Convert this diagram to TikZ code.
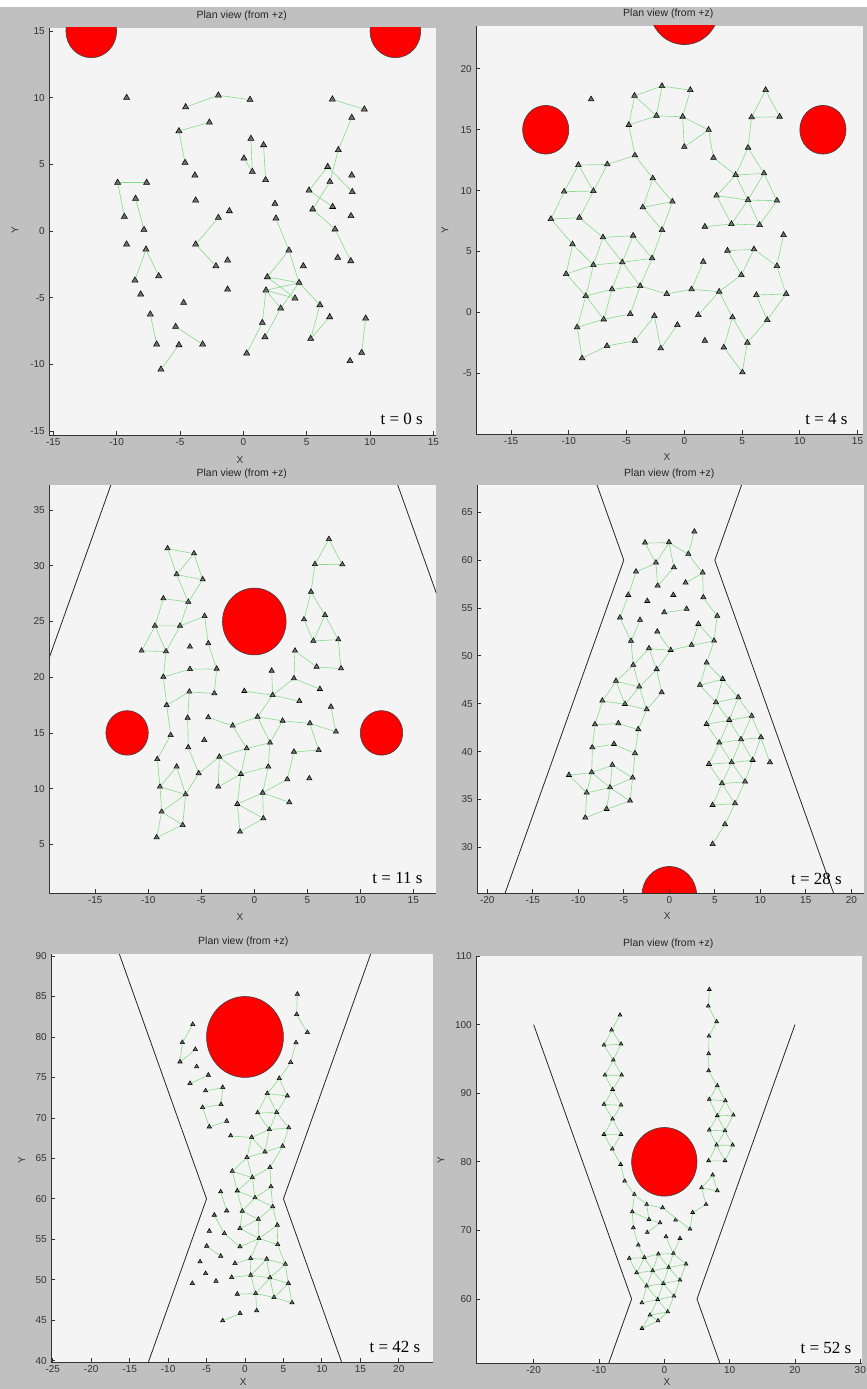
\documentclass[tikz,border=0pt]{standalone}
\usepackage{fontspec}
\setmainfont{Liberation Serif}
\setsansfont{Liberation Sans}
\usepackage{tikz}
\usetikzlibrary{shapes.geometric}
\definecolor{figGray}{HTML}{C0C0C0}
\definecolor{plotBg}{HTML}{F4F4F4}
\definecolor{linkGreen}{HTML}{86DC86}
\definecolor{agentGray}{HTML}{6E6E6E}
\tikzset{
  plotarea/.style={fill=plotBg},
  axisline/.style={draw=black!80,line width=0.8pt},
  ticklabel/.style={font=\fontsize{10}{12}\sffamily,text=black!80,inner sep=1pt},
  plottitle/.style={font=\fontsize{10.5}{12}\sffamily,text=black!85},
  axislabel/.style={font=\fontsize{10}{12}\sffamily,text=black!80},
  timelabel/.style={font=\fontsize{17}{20}\rmfamily,text=black},
  wall/.style={draw=black!85,line width=0.8pt},
  obstacle/.style={fill=red,draw=black!75,line width=0.6pt},
  link/.style={draw=linkGreen,line width=0.6pt},
  agent/.style={regular polygon,regular polygon sides=3,minimum size=#1,inner sep=0pt,
    draw=black,fill=agentGray,line width=0.55pt},
  agent/.default=7pt
}

\begin{document}
\begin{tikzpicture}[x=1pt,y=-1pt]
  \useasboundingbox (0,0) rectangle (867,1389);
  \fill[figGray] (0,0) rectangle (867,1389);
  \fill[white] (0,0) rectangle (867,7);

  % ---- t = 0 s
  \begin{scope}
    \clip (49,28) rectangle (436,435);
    \fill[plotarea] (49,28) rectangle (436,435);
    \begin{scope}[shift={(243.3,231)},xscale=12.67,yscale=-13.33]
      \filldraw[obstacle] (-12,15) circle (2) (12,15) circle (2);
      \foreach \n/\x/\y in {1/-9.21/10.0,2/-4.55/9.3,3/-1.97/10.18,4/0.53/9.85,5/7.03/9.88,
        6/9.55/9.13,7/8.56/8.5,8/7.5/6.08,9/-5.08/7.5,10/-2.68/8.15,11/-4.6/5.13,12/0.6/6.93,
        13/0.71/4.45,14/1.6/6.45,15/1.76/3.83,16/0.05/5.45,17/-3.82/4.18,18/-3.76/2.3,
        19/-1.97/1.0,20/-1.1/1.5,21/-3.76/-1.0,22/-2.16/-2.63,23/-1.24/-2.2,24/-1.24/-4.38,
        25/-9.92/3.63,26/-7.63/3.63,27/-9.39/1.08,28/-8.5/2.43,29/-7.84/0.1,30/-9.21/-1.0,
        31/-7.68/-1.38,32/-8.55/-3.7,33/-6.68/-3.38,34/-8.1/-4.75,35/-7.34/-6.25,36/-6.84/-8.5,
        37/-5.34/-7.18,38/-3.21/-8.5,39/-5.08/-8.55,40/-6.5/-10.38,41/-4.71/-5.38,42/6.66/4.82,
        43/8.56/4.18,44/6.84/3.7,45/5.19/3.05,46/8.6/2.93,47/7.05/1.82,48/5.48/1.63,49/8.5/1.13,
        50/7.24/0.13,51/7.45/-2.0,52/8.48/-2.25,53/2.5/2.05,54/2.58/0.95,55/3.6/-1.45,
        56/4.74/-2.63,57/1.9/-3.45,58/4.4/-3.88,59/1.79/-4.45,60/4.08/-5.05,61/2.95/-5.8,
        62/6.05/-5.55,63/6.82/-6.45,64/1.5/-6.88,65/1.71/-7.95,66/5.32/-8.08,67/0.27/-9.18,
        68/9.66/-6.55,69/9.34/-9.13,70/8.42/-9.75}
        \node[agent] (a\n) at (\x,\y) {};
      \foreach \i/\j in {2/3,3/4,5/6,7/8,8/44,42/45,42/46,44/48,45/47,48/50,50/52,9/10,9/11,
        12/13,14/15,16/13,25/26,25/27,28/29,31/32,31/33,35/36,37/38,39/40,21/19,21/22,54/55,
        55/57,55/58,57/58,57/60,59/58,59/60,59/61,58/61,58/62,62/66,63/66,59/64,64/67,61/65,68/69}
        \draw[link] (a\i) -- (a\j);
    \end{scope}
    \node[timelabel] (t0) at (401.7,418.5) {t = 0 s};
  \end{scope}
  \draw[axisline] (49,28) -- (49,435) -- (436,435);
  \foreach \v in {-15,-10,...,15} {
    \draw[axisline] ({243.3+12.67*\v},435) -- ++(0,-4);
    \node[ticklabel,anchor=north] at ({243.3+12.67*\v},437) {\v};
    \draw[axisline] (49,{231-13.33*\v}) -- ++(4,0);
    \node[ticklabel,anchor=east] at (46,{231-13.33*\v}) {\v};
  }
  \node[plottitle] (title1) at (241.7,16) {Plan view (from +z)};
  \node[axislabel] (xlab1) at (240,460) {X};
  \node[axislabel,rotate=90] (ylab1) at (15,230) {Y};

  % ---- t = 4 s
  \begin{scope}
    \clip (476,26) rectangle (863,434);
    \fill[plotarea] (476,26) rectangle (863,434);
    \begin{scope}[shift={(684.3,312.3)},xscale=11.55,yscale=-12.17]
      \filldraw[obstacle] (-12,15) circle (2) (12,15) circle (2) (0,25) circle (3);
      \foreach \n/\x/\y in {1/-8.07/17.5,2/-4.31/17.8,3/-1.93/18.6,4/0.52/18.27,5/-2.41/16.16,
        6/-0.14/16.08,7/-4.8/15.4,8/2.1/15.0,9/0.0/13.6,10/2.53/12.7,11/-4.28/12.9,12/7.04/18.27,
        13/5.83/16.03,14/8.25/16.08,15/5.52/13.53,16/4.45/11.29,17/6.9/11.42,18/2.79/9.59,
        19/5.52/9.23,20/8.02/9.18,21/4.08/7.26,22/6.52/7.18,23/1.78/7.04,24/8.59/6.36,
        25/3.74/5.07,26/6.03/5.18,27/8.02/3.81,28/4.94/3.07,29/6.24/1.42,30/8.82/1.51,
        31/3.02/1.7,32/4.17/-0.41,33/7.18/-0.63,34/5.46/-2.49,35/3.42/-2.88,36/5.03/-4.93,
        37/0.63/1.89,38/1.64/4.16,39/1.21/-0.22,40/1.78/-2.33,41/-2.73/11.01,42/-1.03/9.1,
        43/-3.59/8.63,44/-1.93/6.77,45/-4.43/6.3,46/-7.04/6.16,47/-2.79/4.44,48/-5.37/4.11,
        49/-7.87/3.89,50/-3.82/2.16,51/-6.26/1.89,52/-8.53/1.34,53/-4.68/-0.14,54/-6.98/-0.58,
        55/-9.28/-1.23,56/-6.7/-2.77,57/-4.28/-2.33,58/-2.04/-2.96,59/-2.59/-0.3,60/-0.6/-1.04,
        61/-8.85/-3.78,62/-1.52/1.51,63/-9.17/12.11,64/-6.67/12.16,65/-10.4/9.92,66/-7.87/9.97,
        67/-11.55/7.67,68/-9.08/7.78,69/-9.68/5.59,70/-10.23/3.15}
        \node[agent=6.5pt] (b\n) at (\x,\y) {};
      \foreach \i/\j in {2/3,3/4,2/5,3/5,4/6,5/6,7/5,2/7,6/8,6/9,8/9,8/10,7/11,12/13,12/14,
        13/14,13/15,15/16,15/17,16/17,10/16,16/18,16/19,17/19,17/20,18/19,19/20,18/21,19/21,
        19/22,20/22,21/22,23/21,25/26,26/27,24/27,27/30,25/28,26/28,28/31,29/30,29/33,30/33,
        31/32,32/34,33/34,32/35,35/36,34/36,37/38,37/31,39/31,11/41,41/43,41/42,42/43,43/44,
        42/44,46/45,45/47,45/48,44/47,46/48,46/49,47/48,48/49,48/50,47/50,49/52,51/52,51/50,
        50/53,48/51,51/54,52/54,52/55,54/55,53/54,55/61,56/61,56/57,59/57,59/58,58/60,50/62,
        62/37,63/64,63/65,63/66,64/66,65/66,65/67,66/68,67/68,67/69,68/46,69/70,69/49,70/49,
        70/52,64/11}
        \draw[link] (b\i) -- (b\j);
    \end{scope}
    \node[timelabel] (t4) at (826.5,418.5) {t = 4 s};
  \end{scope}
  \draw[axisline] (476,26) -- (476,434) -- (863,434);
  \foreach \v in {-15,-10,...,15} {
    \draw[axisline] ({684.3+11.55*\v},434) -- ++(0,-4);
    \node[ticklabel,anchor=north] at ({684.3+11.55*\v},436) {\v};
  }
  \foreach \v in {-5,0,...,20} {
    \draw[axisline] (476,{312.3-12.17*\v}) -- ++(4,0);
    \node[ticklabel,anchor=east] at (473,{312.3-12.17*\v}) {\v};
  }
  \node[plottitle] (title2) at (668.3,14) {Plan view (from +z)};
  \node[axislabel] (xlab2) at (667,457) {X};
  \node[axislabel,rotate=90] (ylab2) at (445,230) {Y};

  % ---- t = 11 s
  \begin{scope}
    \clip (49,485) rectangle (436,893);
    \fill[plotarea] (49,485) rectangle (436,893);
    \begin{scope}[shift={(254.3,900)},xscale=10.6,yscale=-11.14]
      \draw[wall] (-20,20) -- (-5,60) -- (-20,100) (20,20) -- (5,60) -- (20,100);
      \filldraw[obstacle] (-12,15) circle (2) (12,15) circle (2) (0,25) circle (3);
      \foreach \n/\x/\y in {1/-8.18/31.56,2/-5.69/31.11,3/-7.33/29.23,4/-4.87/28.78,
        5/-8.58/27.07,6/-6.23/26.77,7/-9.37/24.62,8/-7.01/24.62,9/-4.69/25.49,10/-10.63/22.38,
        11/-8.33/22.32,12/-6.07/22.74,13/-4.34/23.03,14/-8.58/20.04,15/-6.07/20.73,
        16/-3.55/20.76,17/-8.27/17.5,18/-6.13/18.7,19/-3.77/18.55,20/-6.29/16.36,21/-4.34/16.39,
        22/-7.89/14.81,23/-6.23/13.7,24/-4.72/14.36,25/-9.15/12.65,26/-7.33/11.97,27/-8.9/10.17,
        28/-6.48/9.48,29/-8.74/7.93,30/-6.76/6.73,31/-9.21/5.62,32/-5.25/11.37,33/-0.94/18.76,
        34/1.73/18.4,35/1.64/20.58,36/-2.04/15.65,37/-3.3/12.86,38/0.31/16.45,39/2.67/16.09,
        40/4.25/17.86,41/-0.72/13.61,42/1.48/14.12,43/-1.26/11.31,44/1.32/11.97,45/-3.4/10.17,
        46/0.79/9.63,47/-1.6/8.62,48/3.3/8.77,49/0.85/7.33,50/-1.35/6.13,51/3.11/10.83,
        52/3.74/13.31,53/6.07/13.46,54/5.19/10.92,55/5.25/15.86,56/7.23/17.35,57/7.7/15.11,
        59/3.84/22.38,60/3.74/19.9,61/5.88/20.94,62/8.18/20.79,63/6.19/18.94,64/5.57/23.27,
        65/7.92/23.39,66/4.69/25.19,67/6.67/25.58,68/5.35/27.67,69/5.72/30.15,70/8.3/30.12,
        71/7.04/32.4}
        \node[agent=6pt] (c\n) at (\x,\y) {};
      \foreach \i/\j in {1/2,1/3,2/3,2/4,3/4,3/6,4/6,5/6,5/7,6/8,7/8,8/11,7/10,7/11,10/11,
        8/9,9/13,13/16,11/14,14/15,15/16,14/17,16/19,18/19,17/18,18/20,17/22,20/23,21/36,22/25,
        25/27,26/27,26/28,27/28,27/29,28/29,28/30,29/30,29/31,30/31,28/32,23/32,32/37,69/70,
        69/71,70/71,69/68,68/66,68/67,66/64,67/64,67/65,64/65,65/62,61/62,59/61,59/60,60/63,
        60/34,34/35,34/33,34/40,34/38,38/39,36/38,38/42,39/42,39/55,55/57,56/57,55/53,53/52,
        52/51,42/41,41/36,41/43,42/44,37/41,37/45,37/43,43/45,43/44,43/47,44/46,46/47,46/48,
        46/49,47/49,47/50,49/50,51/46}
        \draw[link] (c\i) -- (c\j);
    \end{scope}
    \node[timelabel] (t11) at (397.5,877.5) {t = 11 s};
  \end{scope}
  \draw[axisline] (49,485) -- (49,893) -- (436,893);
  \foreach \v in {-15,-10,...,15} {
    \draw[axisline] ({254.3+10.6*\v},893) -- ++(0,-4);
    \node[ticklabel,anchor=north] at ({254.3+10.6*\v},895) {\v};
  }
  \foreach \v in {5,10,...,35} {
    \draw[axisline] (49,{900-11.14*\v}) -- ++(4,0);
    \node[ticklabel,anchor=east] at (46,{900-11.14*\v}) {\v};
  }
  \node[plottitle] (title3) at (241.7,473.3) {Plan view (from +z)};
  \node[axislabel] (xlab3) at (240,917) {X};

  % ---- t = 28 s
  \begin{scope}
    \clip (477,485) rectangle (864,893);
    \fill[plotarea] (477,485) rectangle (864,893);
    \begin{scope}[shift={(669.3,1134.4)},xscale=9.1,yscale=-9.571]
      \draw[wall] (-20,20) -- (-5,60) -- (-20,100) (20,20) -- (5,60) -- (20,100);
      \filldraw[obstacle] (0,25) circle (3);
      \foreach \n/\x/\y in {1/2.75/62.98,2/-2.67/61.83,3/-0.04/61.87,4/2.09/60.65,
        5/-1.47/59.74,6/0.51/59.25,7/-3.66/58.8,8/3.66/58.7,9/-1.28/57.34,10/1.79/57.65,
        11/-4.51/56.36,12/-2.42/55.73,13/0.44/56.36,14/3.74/56.12,15/-0.55/54.55,16/1.9/54.9,
        17/-5.42/54.0,18/-3.22/53.75,19/5.27/54.17,20/3.19/53.33,21/-1.32/52.53,22/-4.21/51.56,
        23/4.91/51.59,24/2.45/51.14,25/-2.23/50.79,26/0.15/50.61,27/4.1/49.29,28/-3.96/49.05,
        29/-1.39/48.6,30/-5.86/47.38,31/3.37/46.96,32/-3.3/46.78,33/-0.84/46.19,34/-7.36/45.32,
        35/-4.87/44.97,36/-2.49/44.41,37/-8.17/42.85,38/-5.6/42.95,39/-3.41/42.33,
        40/-8.46/40.44,41/-6.08/40.79,42/-3.77/39.82,43/-11.03/37.55,44/-8.53/37.83,
        45/-6.26/38.6,46/-4.03/37.27,47/-9.08/35.71,48/-6.52/36.26,49/-4.32/34.87,50/-6.89/34.0,
        51/-9.23/33.1,53/5.86/47.58,54/5.13/45.15,55/7.58/45.67,56/4.1/42.88,57/6.59/43.3,
        58/9.05/43.72,59/5.49/40.93,60/7.88/41.28,61/10.07/41.49,62/4.36/38.7,63/6.85/38.88,
        64/9.16/39.12,65/11.06/38.88,66/5.79/36.68,67/8.32/36.86,68/4.76/34.42,69/7.22/34.59,
        70/6.12/32.4,71/4.76/30.34}
        \node[agent=6pt] (d\n) at (\x,\y) {};
      \foreach \i/\j in {2/3,2/5,3/5,3/6,3/4,4/1,4/8,5/7,5/9,6/9,7/11,11/17,17/22,22/28,18/22,
        15/16,21/26,25/26,26/24,24/23,24/20,20/23,23/19,19/14,14/8,10/8,23/27,27/31,25/28,25/29,
        26/29,28/30,28/32,30/32,29/32,29/33,33/36,30/34,30/35,32/35,32/36,34/35,35/36,34/37,
        36/39,37/38,38/39,37/40,39/42,40/41,41/42,40/44,42/46,43/44,44/45,45/46,43/47,44/47,
        44/48,45/48,46/48,46/49,47/48,48/49,48/50,47/51,51/50,49/50,27/53,31/53,31/54,53/54,
        53/55,54/55,54/56,54/57,55/57,55/58,56/57,57/58,56/59,57/59,57/60,58/60,58/61,59/60,
        60/61,59/62,59/63,60/63,60/64,61/64,61/65,62/63,63/64,62/66,63/66,63/67,64/67,66/67,
        66/68,66/69,67/69,68/69,69/70,70/71}
        \draw[link] (d\i) -- (d\j);
    \end{scope}
    \node[timelabel] (t28) at (816.5,878.5) {t = 28 s};
  \end{scope}
  \draw[axisline] (477,485) -- (477,893) -- (864,893);
  \foreach \v in {-20,-15,...,20} {
    \draw[axisline] ({669.3+9.1*\v},893) -- ++(0,-4);
    \node[ticklabel,anchor=north] at ({669.3+9.1*\v},895) {\v};
  }
  \foreach \v in {30,35,...,65} {
    \draw[axisline] (477,{1134.4-9.571*\v}) -- ++(4,0);
    \node[ticklabel,anchor=east] at (474,{1134.4-9.571*\v}) {\v};
  }
  \node[plottitle] (title4) at (669.3,473.3) {Plan view (from +z)};
  \node[axislabel] (xlab4) at (667.3,916) {X};

  % ---- t = 42 s
  \begin{scope}
    \clip (51,954) rectangle (433,1362);
    \fill[plotarea] (51,954) rectangle (433,1362);
    \begin{scope}[shift={(245,1684.4)},xscale=7.689,yscale=-8.093]
      \draw[wall] (-20,20) -- (-5,60) -- (-20,100) (20,20) -- (5,60) -- (20,100);
      \filldraw[obstacle] (0,80) circle (5);
      \foreach \n/\x/\y in {1/6.81/85.3,2/6.72/82.79,3/8.11/80.57,4/6.63/79.29,5/5.94/76.86,
        6/4.46/74.88,7/2.9/73.03,8/5.5/72.74,9/1.65/70.64,10/4.12/70.68,11/3.16/68.58,
        12/5.68/68.79,13/0.87/67.6,14/2.6/65.82,15/4.9/66.52,16/-1.86/67.8,17/0.26/65.12,
        18/-1.65/63.43,19/0.95/62.65,20/3.25/63.89,21/-1.0/61.0,22/1.3/60.14,23/3.38/61.5,
        24/-0.35/58.49,25/1.73/57.5,26/3.6/59.03,27/-0.65/56.35,28/1.82/55.12,29/4.2/56.76,
        30/-0.65/54.09,31/4.25/54.37,32/-1.3/52.03,33/0.74/52.64,34/2.82/52.56,35/5.24/51.94,
        36/-1.73/50.3,37/0.74/50.58,38/3.25/50.26,39/5.64/49.56,40/-1.0/48.24,41/1.39/48.32,
        42/3.77/47.83,43/6.11/47.17,44/-0.65/45.85,45/1.52/46.18,46/-2.9/44.94,47/-6.8/81.56,
        48/-8.15/79.33,49/-6.46/78.47,50/-8.45/76.94,51/-6.29/76.33,52/-4.77/75.3,
        53/-7.15/74.27,54/-5.12/73.36,55/-2.9/73.77,56/-3.12/71.67,57/-5.51/71.3,58/-2.38/69.61,
        59/-4.64/68.91,60/-3.16/60.88,61/-2.38/58.53,62/-3.99/58.0,63/-4.64/56.02,
        64/-2.69/55.73,66/-4.98/54.17,67/-3.16/52.93,68/-5.85/52.23,69/-5.12/50.79,
        70/-3.77/49.84,71/-6.85/49.56}
        \node[agent=5pt] (f\n) at (\x,\y) {};
      \foreach \i/\j in {1/2,2/3,4/5,5/6,6/7,6/8,7/8,7/9,7/10,8/10,9/10,9/11,10/11,10/12,
        11/12,11/13,11/14,12/15,14/15,13/14,13/16,13/17,14/17,17/18,17/19,18/19,19/20,18/21,
        19/21,19/22,20/23,21/22,22/23,21/24,22/24,22/26,23/26,24/25,25/26,24/27,25/27,25/28,
        26/29,28/29,27/28,28/30,28/31,29/31,28/33,31/35,32/33,33/34,34/35,33/37,34/37,34/38,
        35/38,35/39,36/37,37/38,38/39,37/41,38/41,38/42,39/42,39/43,40/41,41/42,42/43,41/45,
        44/46,20/15,64/30,47/48,48/50,49/50,52/53,54/55,55/56,56/57,57/59,59/58,60/61,62/64,
        66/67}
        \draw[link] (f\i) -- (f\j);
    \end{scope}
    \node[timelabel] (t42) at (395,1347) {t = 42 s};
  \end{scope}
  \draw[axisline] (51,954) -- (51,1362) -- (433,1362);
  \foreach \v in {-25,-20,...,20} {
    \draw[axisline] ({245+7.689*\v},1362) -- ++(0,-4);
    \node[ticklabel,anchor=north] at ({245+7.689*\v},1364) {\v};
  }
  \foreach \v in {40,45,...,90} {
    \draw[axisline] (51,{1684.4-8.093*\v}) -- ++(4,0);
    \node[ticklabel,anchor=east] at (48,{1684.4-8.093*\v}) {\v};
  }
  \node[plottitle] (title5) at (243.3,941.7) {Plan view (from +z)};
  \node[axislabel] (xlab5) at (243.3,1382) {X};
  \node[axislabel,rotate=90] (ylab5) at (21.7,1160) {Y};

  % ---- t = 52 s
  \begin{scope}
    \clip (476,956) rectangle (862,1363);
    \fill[plotarea] (476,956) rectangle (862,1363);
    \begin{scope}[shift={(664.3,1710.6)},xscale=6.533,yscale=-6.86]
      \draw[wall] (-20,20) -- (-5,60) -- (-20,100) (20,20) -- (5,60) -- (20,100);
      \filldraw[obstacle] (0,80) circle (5);
      \foreach \n/\x/\y in {1/-6.79/101.4,2/-8.06/99.21,3/-9.23/97.03,4/-6.63/97.17,
        5/-7.81/94.84,6/-9.08/92.65,7/-6.53/92.65,8/-7.91/90.56,9/-9.23/88.38,10/-6.63/88.28,
        11/-7.91/86.24,12/-9.23/84.0,13/-6.63/84.0,14/-7.96/81.87,15/-6.68/79.63,16/-6.07/77.2,
        17/-4.59/75.26,18/6.89/105.14,19/6.73/102.71,20/8.01/100.43,21/6.84/98.34,
        22/6.79/95.76,23/6.79/93.28,24/8.11/91.1,25/6.89/89.11,26/9.34/88.91,27/8.11/86.73,
        28/10.56/86.82,29/6.89/84.64,30/9.29/84.54,31/8.01/82.45,32/10.46/82.45,33/6.79/80.17,
        34/9.29/80.17,35/7.4/78.08,36/5.71/76.23,37/8.11/75.79,38/6.38/73.8,39/4.34/72.63,
        40/3.93/70.2,42/-2.7/73.8,43/-0.26/73.31,44/-4.9/72.73,45/-2.35/71.61,46/-0.66/71.13,
        47/1.73/71.52,48/-4.74/70.4,49/-2.6/69.72,51/0.26/69.09,52/2.4/68.84,53/-3.98/67.87,
        54/-5.36/65.93,55/-3.06/66.07,56/-0.92/66.56,57/1.38/66.66,58/-4.23/63.84,
        59/-1.79/64.13,60/0.66/64.62,61/3.32/65.1,62/-2.7/61.9,63/-0.15/62.28,64/2.4/62.77,
        65/-3.42/59.47,66/-1.02/59.95,67/1.48/60.44,68/-2.19/57.67,69/0.51/58.15,
        70/-0.97/56.84,71/-3.42/55.72}
        \node[agent=4.5pt] (g\n) at (\x,\y) {};
      \foreach \i/\j in {1/2,2/3,2/4,3/4,3/5,4/5,5/6,5/7,6/7,6/8,7/8,8/9,8/10,9/10,9/11,
        10/11,11/12,11/13,12/13,12/14,13/14,14/15,15/16,16/17,18/19,19/20,20/21,21/22,22/23,
        23/24,24/25,24/26,25/26,25/27,26/27,26/28,27/28,27/29,27/30,28/30,29/30,29/31,30/31,
        30/32,31/32,31/33,31/34,32/34,33/34,35/36,35/37,36/37,36/38,38/39,39/40,17/42,17/44,
        42/43,42/45,44/45,43/40,44/48,45/46,48/53,49/46,53/55,54/55,54/58,55/56,55/58,55/59,
        56/57,56/59,56/60,57/60,57/61,51/57,52/57,58/59,59/60,60/61,58/62,59/62,59/63,60/63,
        60/64,61/64,62/63,63/64,62/65,62/66,63/66,63/67,64/67,65/66,66/67,66/68,66/69,67/69,
        68/69,68/70,69/70,68/71,70/71}
        \draw[link] (g\i) -- (g\j);
    \end{scope}
    \node[timelabel] (t52) at (826,1348) {t = 52 s};
  \end{scope}
  \draw[axisline] (476,956) -- (476,1363) -- (862,1363);
  \foreach \v in {-20,-10,...,30} {
    \draw[axisline] ({664.3+6.533*\v},1363) -- ++(0,-4);
    \node[ticklabel,anchor=north] at ({664.3+6.533*\v},1365) {\v};
  }
  \foreach \v in {60,70,...,110} {
    \draw[axisline] (476,{1710.6-6.86*\v}) -- ++(4,0);
    \node[ticklabel,anchor=east] at (473,{1710.6-6.86*\v}) {\v};
  }
  \node[plottitle] (title6) at (668.3,943.3) {Plan view (from +z)};
  \node[axislabel] (xlab6) at (667,1382) {X};
  \node[axislabel,rotate=90] (ylab6) at (441,1160) {Y};
\end{tikzpicture}
\end{document}
